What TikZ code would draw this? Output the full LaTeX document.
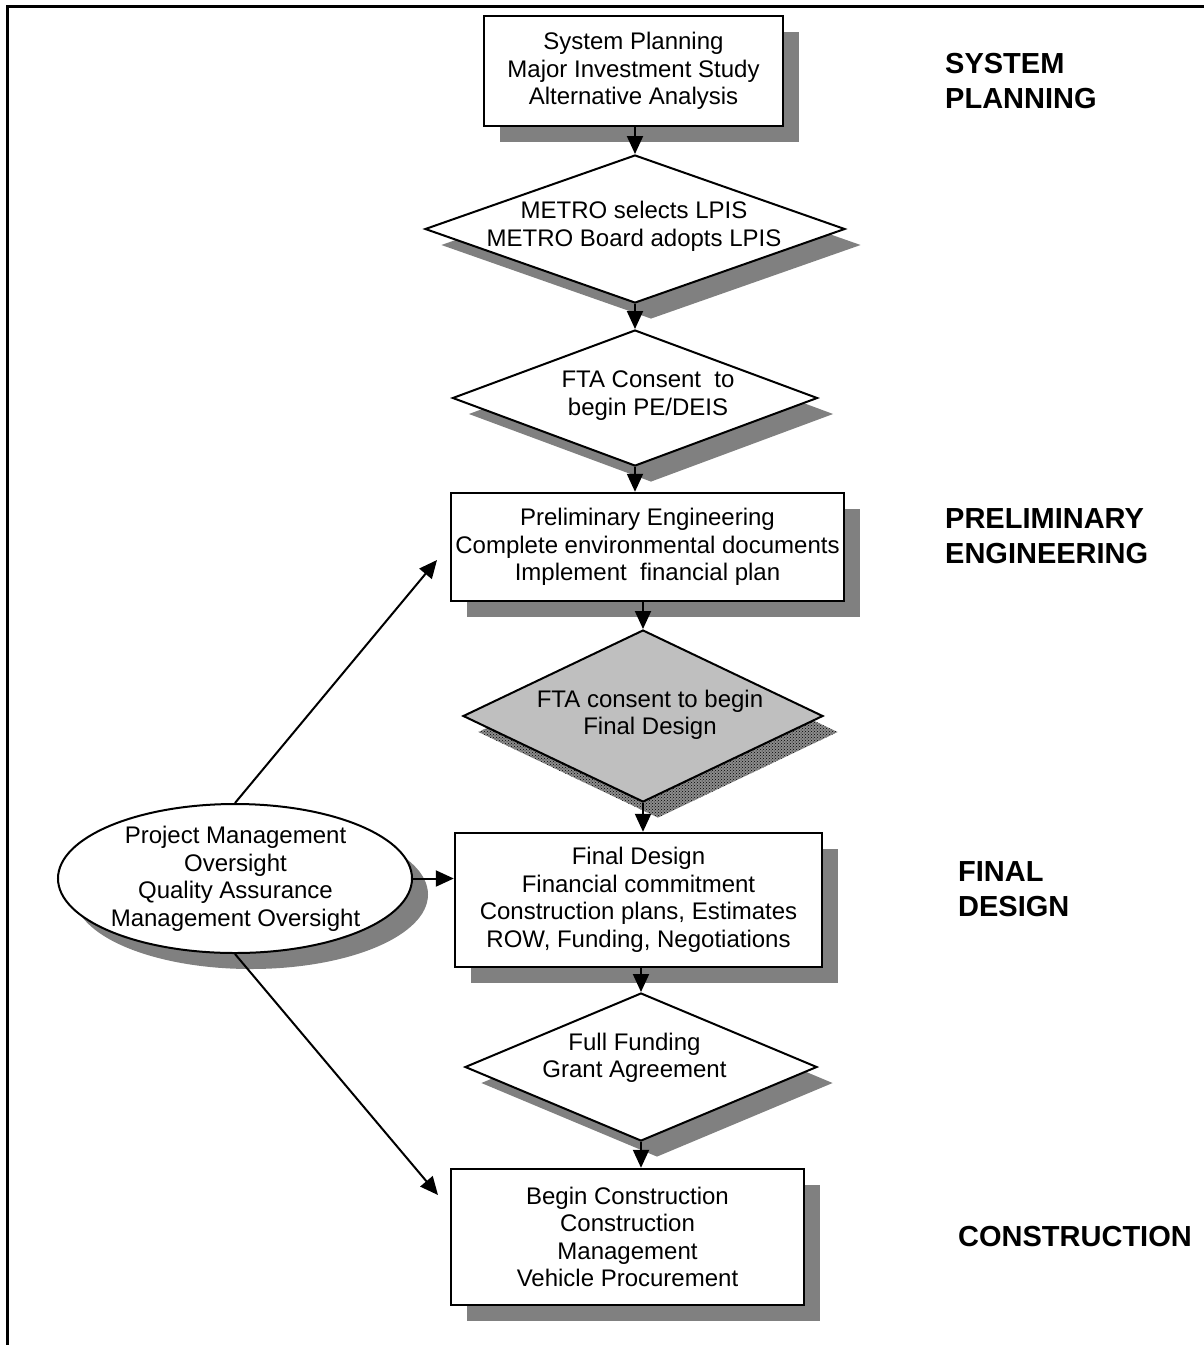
\documentclass[tikz,border=0pt]{standalone}
\usepackage{fontspec}
\setmainfont{Liberation Sans}
\usetikzlibrary{shapes.geometric,shadows,patterns,arrows.meta}

\begin{document}
\begin{tikzpicture}[x=1pt,y=-1pt,
    >={Triangle[length=18pt,width=16pt]},
    shadowed/.style={drop shadow={shadow xshift=16pt,shadow yshift=-16pt,opacity=1,fill=black!50}},
    dotshadow/.style={drop shadow={shadow xshift=15pt,shadow yshift=-16pt,opacity=1,fill=black!45},
        drop shadow={shadow xshift=15pt,shadow yshift=-16pt,opacity=1,pattern=crosshatch dots,pattern color=black}},
    stepbox/.style={draw,line width=2.4pt,fill=white,rectangle,align=center,inner sep=0pt,
        font=\fontsize{24}{27.5}\selectfont},
    decision/.style={draw,line width=2pt,fill=white,diamond,inner sep=0pt},
    note/.style={align=center,inner sep=0pt,font=\fontsize{24}{27.5}\selectfont},
    phaselabel/.style={anchor=west,align=left,inner sep=0pt,font=\bfseries\fontsize{29}{35}\selectfont},
    flow/.style={->,line width=2pt}]
    \useasboundingbox (0,0) rectangle (1204,1345);
    \draw[line width=3pt] (1204,6) -- (7,6) -- (7,1345);

    % main column
    \node[stepbox,shadowed,minimum width=299pt,minimum height=110pt] (box1) at (633.5,71)
        {System Planning\\Major Investment Study\\Alternative Analysis};
    \node[decision,shadowed,minimum width=420pt,minimum height=148pt] (d1) at (635,229) {};
    \node[note] (d1txt) at (634,226.5) {METRO selects LPIS\\METRO Board adopts LPIS};
    \node[decision,shadowed,minimum width=365pt,minimum height=136pt] (d2) at (635,398) {};
    \node[note] (d2txt) at (648,395.5) {FTA Consent\ \ to\\begin PE/DEIS};
    \node[stepbox,shadowed,minimum width=393pt,minimum height=108pt] (box2) at (647.5,547)
        {Preliminary Engineering\\Complete environmental documents\\Implement\ \ financial plan};
    \node[decision,dotshadow,fill=black!25,minimum width=360pt,minimum height=172pt] (d3) at (643,716) {};
    \node[note] (d3txt) at (650,715) {FTA consent to begin\\Final Design};
    \node[stepbox,shadowed,minimum width=367pt,minimum height=134pt] (box3) at (638.5,900)
        {Final Design\\Financial commitment\\Construction plans, Estimates\\ROW, Funding, Negotiations};
    \node[decision,shadowed,minimum width=352pt,minimum height=148pt] (d4) at (641,1067) {};
    \node[note] (d4txt) at (634.5,1058) {Full Funding\\Grant Agreement};
    \node[stepbox,shadowed,minimum width=353pt,minimum height=136pt] (box4) at (627.5,1237)
        {Begin Construction\\Construction\\Management\\Vehicle Procurement};

    % oversight
    \node[ellipse,draw,line width=2pt,fill=white,shadowed,minimum width=354pt,minimum height=149pt] (ell) at (235,878.5) {};
    \node[note] (elltxt) at (235.5,878.75) {Project Management\\Oversight\\Quality Assurance\\Management Oversight};

    % phases
    \node[phaselabel] (p1) at (945,81) {SYSTEM\\PLANNING};
    \node[phaselabel] (p2) at (945,536.5) {PRELIMINARY\\ENGINEERING};
    \node[phaselabel] (p3) at (958,889) {FINAL\\DESIGN};
    \node[phaselabel] (p4) at (958,1237) {CONSTRUCTION};

    \draw[flow] (d1.north |- box1.south) -- (d1.north);
    \draw[flow] (d1.south) -- (d2.north);
    \draw[flow] (d2.south) -- (d2.south |- box2.north);
    \draw[flow] (d3.north |- box2.south) -- (d3.north);
    \draw[flow] (d3.south) -- (d3.south |- box3.north);
    \draw[flow] (d4.north |- box3.south) -- (d4.north);
    \draw[flow] (d4.south) -- (d4.south |- box4.north);

    \coordinate (up) at (437,560);
    \coordinate (down) at (438,1195);
    \draw[flow] (ell.north) -- (up);
    \draw[flow] (ell.east) -- (ell.east -| box3.west);
    \draw[flow] (ell.south) -- (down);
\end{tikzpicture}
\end{document}
